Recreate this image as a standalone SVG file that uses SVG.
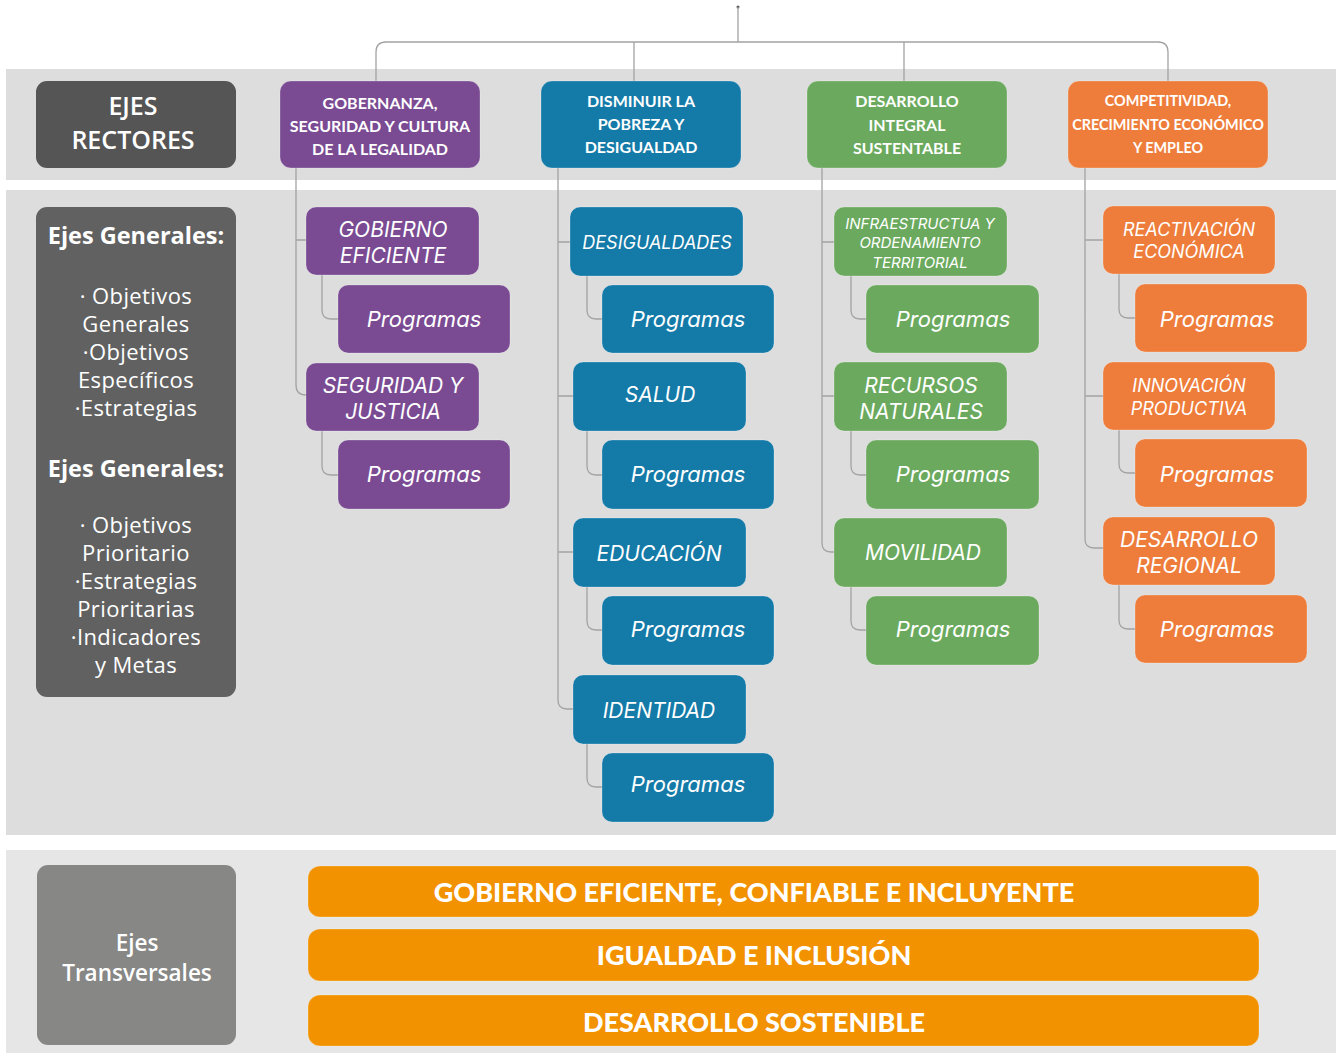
<svg xmlns="http://www.w3.org/2000/svg" width="1342" height="1053" viewBox="0 0 1342 1053">
<style>
.band{fill:#dddddd}
.band3{fill:#e6e6e6}
.conn{fill:none;stroke:#a3a3a3;stroke-width:1.3}
.box{stroke:#ffffff;stroke-opacity:0.25;stroke-width:1}
.pu{fill:#7a4b93}
.bl{fill:#147aa8}
.gr{fill:#6baa5e}
.or{fill:#ee7d3b}
.ta{fill:#f29200}
.hd{font-family:Lato,"Liberation Sans",sans-serif;font-weight:700;fill:#fff;text-anchor:middle}
.it{font-family:Inter,"Liberation Sans",sans-serif;font-style:italic;fill:#fff;text-anchor:middle}
.os{font-family:"Open Sans","Liberation Sans",sans-serif;fill:#fff;text-anchor:middle}
.tb{font-family:Lato,"Liberation Sans",sans-serif;font-weight:900;fill:#fff;text-anchor:middle;font-size:27px}
</style>
<rect class="band" x="6" y="69" width="1330" height="111"/>
<rect class="band" x="6" y="190" width="1330" height="645"/>
<rect class="band3" x="6" y="850" width="1330" height="203"/>

<g id="connectors">
<circle cx="738" cy="7" r="1.5" fill="#555"/>
<path class="conn" d="M738,7 V42 M376,81 V52 Q376,42 386,42 H1158 Q1168,42 1168,52 V81 M634,42 V81 M904,42 V81"/>
<path class="conn" d="M296,168 V385 Q296,395 306,395 M296,240 H306 M322,275 V310 Q322,319 331,319 H338 M322,431 V466 Q322,475 331,475 H338"/>
<path class="conn" d="M558,168 V700 Q558,709 567,709 H573 M558,242 H570 M558,396 H573 M558,552 H573 M587,276 V310 Q587,319 596,319 H602 M587,431 V466 Q587,475 596,475 H602 M587,587 V621 Q587,630 596,630 H602 M587,744 V778 Q587,787 596,787 H602"/>
<path class="conn" d="M822,168 V543 Q822,552 831,552 H834 M822,242 H834 M822,396 H834 M851,276 V310 Q851,319 860,319 H866 M851,431 V466 Q851,475 860,475 H866 M851,587 V621 Q851,630 860,630 H866"/>
<path class="conn" d="M1085,168 V539 Q1085,548 1094,548 H1103 M1085,240 H1103 M1085,396 H1103 M1119,274 V309 Q1119,318 1128,318 H1135 M1119,430 V464 Q1119,473 1128,473 H1135 M1119,585 V620 Q1119,629 1128,629 H1135"/>
</g>

<g id="ejes-rectores">
<rect x="36" y="81" width="200" height="87" rx="11" fill="#555555"/>
<text class="os" font-size="25" font-weight="600" x="133" y="114.8">EJES</text>
<text class="os" font-size="25" font-weight="600" x="133" y="149">RECTORES</text>
</g>
<g id="eje-gobernanza">
<rect class="box pu" x="280" y="81" width="200" height="87" rx="11"/>
<text class="hd" font-size="16"><tspan x="380" y="109">GOBERNANZA,</tspan><tspan x="380" y="132">SEGURIDAD Y CULTURA</tspan><tspan x="380" y="155">DE LA LEGALIDAD</tspan></text>
</g>
<g id="eje-pobreza">
<rect class="box bl" x="541" y="81" width="200" height="87" rx="11"/>
<text class="hd" font-size="16"><tspan x="641" y="107">DISMINUIR LA</tspan><tspan x="641" y="130">POBREZA Y</tspan><tspan x="641" y="153">DESIGUALDAD</tspan></text>
</g>
<g id="eje-desarrollo">
<rect class="box gr" x="807" y="81" width="200" height="87" rx="11"/>
<text class="hd" font-size="16"><tspan x="907" y="107">DESARROLLO</tspan><tspan x="907" y="131">INTEGRAL</tspan><tspan x="907" y="154">SUSTENTABLE</tspan></text>
</g>
<g id="eje-competitividad">
<rect class="box or" x="1068" y="81" width="200" height="87" rx="11"/>
<text class="hd" font-size="14.4"><tspan x="1168" y="106">COMPETITIVIDAD,</tspan><tspan x="1168" y="130">CRECIMIENTO ECONÓMICO</tspan><tspan x="1168" y="153">Y EMPLEO</tspan></text>
</g>

<g id="ejes-generales">
<rect x="36" y="207" width="200" height="490" rx="11" fill="#616161"/>
<text class="os" font-size="23.5" font-weight="700"><tspan x="136" y="244">Ejes Generales:</tspan></text>
<text class="os" font-size="22" letter-spacing="0.4"><tspan x="136" y="304">· Objetivos</tspan><tspan x="136" y="332">Generales</tspan><tspan x="136" y="360">·Objetivos</tspan><tspan x="136" y="388">Específicos</tspan><tspan x="136" y="416">·Estrategias</tspan></text>
<text class="os" font-size="23.5" font-weight="700"><tspan x="136" y="477">Ejes Generales:</tspan></text>
<text class="os" font-size="22" letter-spacing="0.4"><tspan x="136" y="533">· Objetivos</tspan><tspan x="136" y="561">Prioritario</tspan><tspan x="136" y="589">·Estrategias</tspan><tspan x="136" y="617">Prioritarias</tspan><tspan x="136" y="645">·Indicadores</tspan><tspan x="136" y="673">y Metas</tspan></text>
</g>

<g id="gobierno-eficiente"><rect class="box pu" x="306" y="207" width="173" height="68" rx="10"/><text class="it" font-size="21"><tspan x="393" y="237">GOBIERNO</tspan><tspan x="393" y="263">EFICIENTE</tspan></text></g>
<g id="prog-p1"><rect class="box pu" x="338" y="285" width="172" height="68" rx="10"/><text class="it" font-size="22" x="424" y="327">Programas</text></g>
<g id="seguridad-justicia"><rect class="box pu" x="306" y="363" width="173" height="68" rx="10"/><text class="it" font-size="21"><tspan x="393" y="393">SEGURIDAD Y</tspan><tspan x="393" y="419">JUSTICIA</tspan></text></g>
<g id="prog-p2"><rect class="box pu" x="338" y="440" width="172" height="69" rx="10"/><text class="it" font-size="22" x="424" y="482">Programas</text></g>

<g id="desigualdades"><rect class="box bl" x="570" y="207" width="173" height="69" rx="10"/><text class="it" font-size="18" x="657" y="249">DESIGUALDADES</text></g>
<g id="prog-b1"><rect class="box bl" x="602" y="285" width="172" height="68" rx="10"/><text class="it" font-size="22" x="688" y="327">Programas</text></g>
<g id="salud"><rect class="box bl" x="573" y="362" width="173" height="69" rx="10"/><text class="it" font-size="21" x="660" y="402">SALUD</text></g>
<g id="prog-b2"><rect class="box bl" x="602" y="440" width="172" height="69" rx="10"/><text class="it" font-size="22" x="688" y="482">Programas</text></g>
<g id="educacion"><rect class="box bl" x="573" y="518" width="173" height="69" rx="10"/><text class="it" font-size="21" x="659" y="561">EDUCACIÓN</text></g>
<g id="prog-b3"><rect class="box bl" x="602" y="596" width="172" height="69" rx="10"/><text class="it" font-size="22" x="688" y="637">Programas</text></g>
<g id="identidad"><rect class="box bl" x="573" y="675" width="173" height="69" rx="10"/><text class="it" font-size="21" x="659" y="718">IDENTIDAD</text></g>
<g id="prog-b4"><rect class="box bl" x="602" y="753" width="172" height="69" rx="10"/><text class="it" font-size="22" x="688" y="792">Programas</text></g>

<g id="infraestructura"><rect class="box gr" x="834" y="207" width="173" height="69" rx="10"/><text class="it" font-size="15"><tspan x="920" y="229">INFRAESTRUCTUA Y</tspan><tspan x="920" y="248">ORDENAMIENTO</tspan><tspan x="920" y="268">TERRITORIAL</tspan></text></g>
<g id="prog-g1"><rect class="box gr" x="866" y="285" width="173" height="68" rx="10"/><text class="it" font-size="22" x="953" y="327">Programas</text></g>
<g id="recursos-naturales"><rect class="box gr" x="834" y="362" width="173" height="69" rx="10"/><text class="it" font-size="21"><tspan x="921" y="393">RECURSOS</tspan><tspan x="921" y="419">NATURALES</tspan></text></g>
<g id="prog-g2"><rect class="box gr" x="866" y="440" width="173" height="69" rx="10"/><text class="it" font-size="22" x="953" y="482">Programas</text></g>
<g id="movilidad"><rect class="box gr" x="834" y="518" width="173" height="69" rx="10"/><text class="it" font-size="21" x="923" y="560">MOVILIDAD</text></g>
<g id="prog-g3"><rect class="box gr" x="866" y="596" width="173" height="69" rx="10"/><text class="it" font-size="22" x="953" y="637">Programas</text></g>

<g id="reactivacion"><rect class="box or" x="1103" y="206" width="172" height="68" rx="10"/><text class="it" font-size="18"><tspan x="1189" y="236">REACTIVACIÓN</tspan><tspan x="1189" y="258">ECONÓMICA</tspan></text></g>
<g id="prog-o1"><rect class="box or" x="1135" y="284" width="172" height="68" rx="10"/><text class="it" font-size="22" x="1217" y="327">Programas</text></g>
<g id="innovacion"><rect class="box or" x="1103" y="362" width="172" height="68" rx="10"/><text class="it" font-size="18"><tspan x="1189" y="392">INNOVACIÓN</tspan><tspan x="1189" y="415">PRODUCTIVA</tspan></text></g>
<g id="prog-o2"><rect class="box or" x="1135" y="439" width="172" height="68" rx="10"/><text class="it" font-size="22" x="1217" y="482">Programas</text></g>
<g id="desarrollo-regional"><rect class="box or" x="1103" y="517" width="172" height="68" rx="10"/><text class="it" font-size="21"><tspan x="1189" y="547">DESARROLLO</tspan><tspan x="1189" y="573">REGIONAL</tspan></text></g>
<g id="prog-o3"><rect class="box or" x="1135" y="595" width="172" height="68" rx="10"/><text class="it" font-size="22" x="1217" y="637">Programas</text></g>

<g id="ejes-transversales">
<rect x="37" y="865" width="199" height="180" rx="11" fill="#878786"/>
<text class="os" font-size="22.5" font-weight="600"><tspan x="137" y="951">Ejes</tspan><tspan x="137" y="981">Transversales</tspan></text>
</g>
<g id="t-gobierno"><rect class="box ta" x="308" y="866" width="951" height="51" rx="12"/><text class="tb" x="754" y="902">GOBIERNO EFICIENTE, CONFIABLE E INCLUYENTE</text></g>
<g id="t-igualdad"><rect class="box ta" x="308" y="929" width="951" height="52" rx="12"/><text class="tb" x="754" y="965">IGUALDAD E INCLUSIÓN</text></g>
<g id="t-desarrollo"><rect class="box ta" x="308" y="995" width="951" height="51" rx="12"/><text class="tb" x="754" y="1032">DESARROLLO SOSTENIBLE</text></g>
</svg>
